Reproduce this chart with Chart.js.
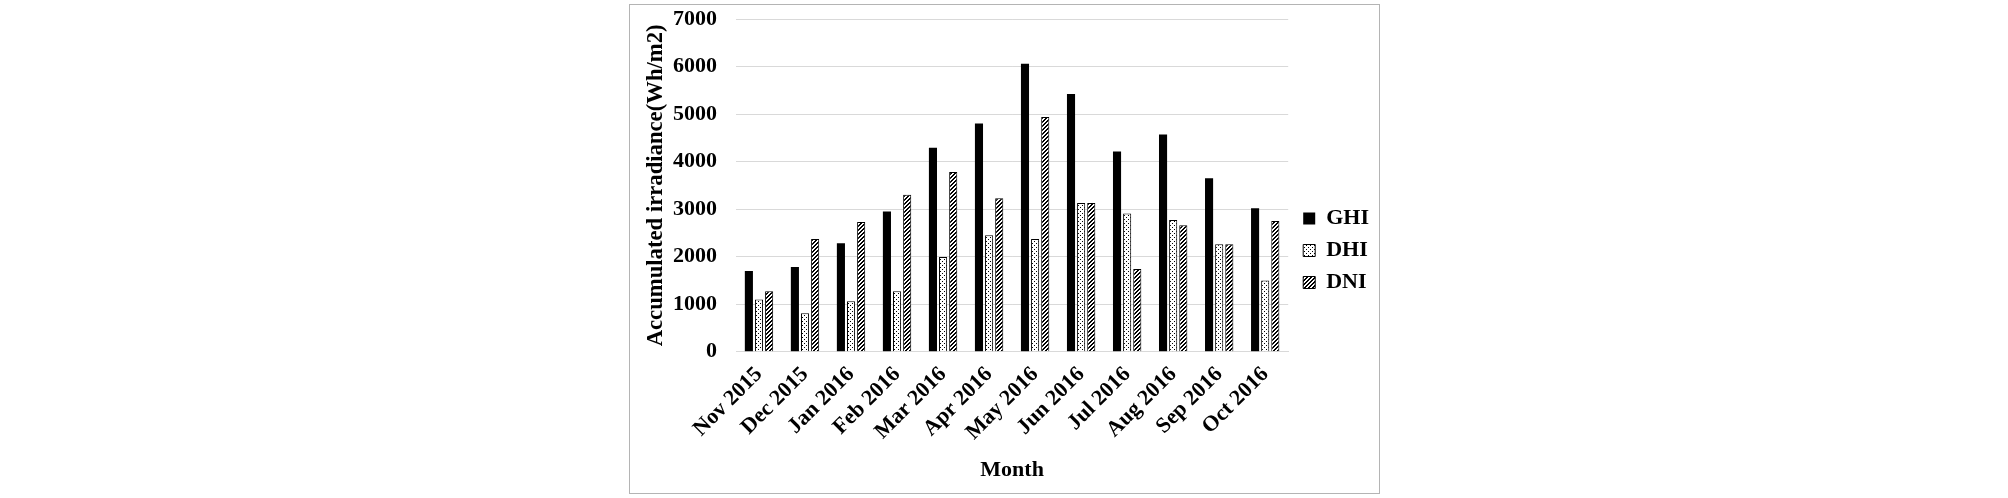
<!DOCTYPE html>
<html>
<head>
<meta charset="utf-8">
<script src="https://cdn.jsdelivr.net/npm/chart.js@4"></script>
<style>
  html, body { margin: 0; padding: 0; background: #fff; }
  #frame { position: absolute; left: 629px; top: 4px; width: 751px; height: 490px; border: 1px solid #b4b4b4; box-sizing: border-box; }
  #chart { display: block; }
</style>
</head>
<body>
<div id="frame"><canvas id="chart" width="749" height="488"></canvas></div>
<script>
const months = ['Nov 2015','Dec 2015','Jan 2016','Feb 2016','Mar 2016','Apr 2016','May 2016','Jun 2016','Jul 2016','Aug 2016','Sep 2016','Oct 2016'];
const ghi = [1700, 1780, 2280, 2950, 4290, 4800, 6060, 5420, 4210, 4570, 3650, 3020];
const dhi = [1100, 810, 1060, 1270, 1990, 2450, 2370, 3130, 2910, 2770, 2260, 1500];
const dni = [1270, 2370, 2730, 3300, 3780, 3230, 4940, 3130, 1740, 2660, 2260, 2750];
const yTicks = [0, 1000, 2000, 3000, 4000, 5000, 6000, 7000];

const FONT = 'Liberation Serif, "Times New Roman", serif';
const bold = { family: FONT, size: 22, weight: 'bold' };

// small tiles for the hatched fills
function tile(paint){
  const c = document.createElement('canvas');
  c.width = 4; c.height = 4;
  const d = c.getContext('2d');
  d.fillStyle = '#fff'; d.fillRect(0,0,4,4);
  d.fillStyle = '#000';
  paint(d);
  return document.getElementById('chart').getContext('2d').createPattern(c, 'repeat');
}
const dots = tile(d => { d.fillRect(0,0,1,1); d.fillRect(2,2,1,1); });
const stripes = tile(d => { for(let x=0;x<4;x++) for(let y=0;y<4;y++) if((x+y)%4<2) d.fillRect(x,y,1,1); });

// nudge the legend a bit right and down
const legendShift = { id: 'legendShift', afterLayout(chart){ const l = chart.legend; l.left += 5; l.right += 5; l.top += 6; l.bottom += 6; } };

new Chart(document.getElementById('chart'), {
  type: 'bar',
  data: {
    labels: months,
    datasets: [
      { label: 'GHI', data: ghi, backgroundColor: '#000', borderColor: '#000', borderWidth: 0 },
      { label: 'DHI', data: dhi, backgroundColor: dots, borderColor: '#000', borderWidth: 1 },
      { label: 'DNI', data: dni, backgroundColor: stripes, borderColor: '#000', borderWidth: 1 }
    ]
  },
  plugins: [legendShift],
  options: {
    responsive: false,
    animation: false,
    devicePixelRatio: 1,
    datasets: { bar: { categoryPercentage: 0.66, barPercentage: 0.8 } },
    layout: { padding: { top: 0, left: 13, right: 5, bottom: 9 } },
    plugins: {
      tooltip: { enabled: false },
      legend: {
        position: 'right',
        labels: { color: '#000', font: bold, boxWidth: 12, boxHeight: 12, padding: 10 }
      }
    },
    scales: {
      x: {
        grid: { display: false },
        border: { color: '#d9d9d9' },
        ticks: { color: '#000', font: bold, minRotation: 45, maxRotation: 45, padding: 2 },
        title: { display: true, text: 'Month', color: '#000', font: bold, padding: { top: 10, bottom: 0 } }
      },
      y: {
        min: 0, max: 7000,
        afterBuildTicks: s => { s.ticks = yTicks.map(v => ({ value: v })); },
        afterFit: s => { s.width = 93; s.paddingTop = 14; },
        grid: { color: '#d9d9d9', drawTicks: false },
        border: { display: false },
        ticks: { color: '#000', font: bold, padding: 19, callback: v => String(v) },
        title: { display: true, text: 'Accumulated irradiance(Wh/m2)', color: '#000', font: { family: FONT, size: 22.7, weight: 'bold' }, padding: { top: 0, bottom: 4 } }
      }
    }
  }
});
</script>
</body>
</html>
